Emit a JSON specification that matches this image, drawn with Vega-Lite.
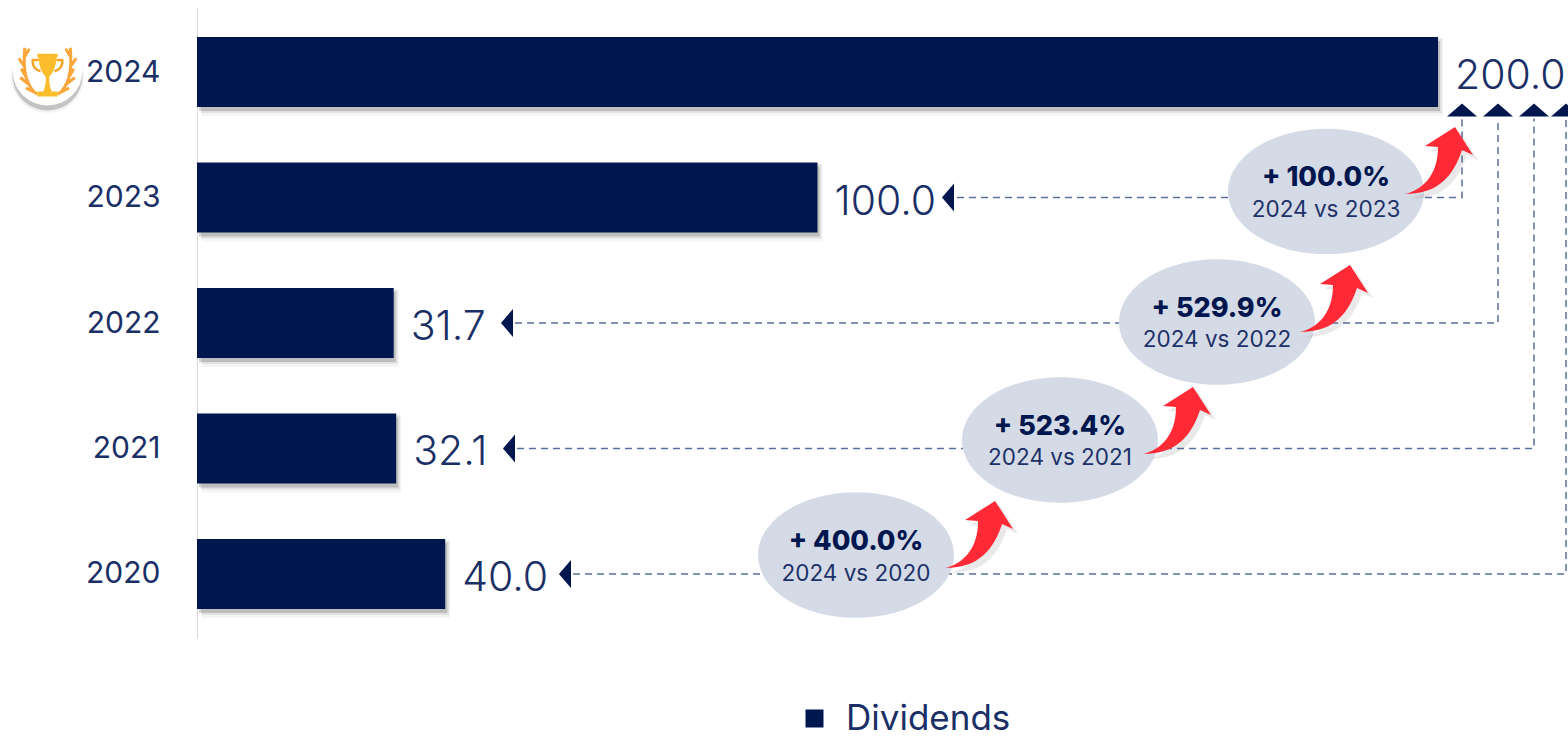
{"$schema":"https://vega.github.io/schema/vega-lite/v6.json","width":1371,"height":630,"autosize":{"type":"none"},"padding":{"left":197,"top":8,"right":0,"bottom":99},"background":"white","config":{"view":{"stroke":null},"font":"Inter"},
"datasets":{
"bars":[{"year":2024,"value":200.0,"series":"Dividends","tipX":null},{"year":2023,"value":100.0,"series":"Dividends","tipX":121.03},{"year":2022,"value":31.7,"series":"Dividends","tipX":49.96},{"year":2021,"value":32.1,"series":"Dividends","tipX":50.28},{"year":2020,"value":40.0,"series":"Dividends","tipX":59.3}],
"links":[{"vs":2023,"o":1,"x":122.48,"y":2023.0},{"vs":2023,"o":2,"x":203.87,"y":2023.0},{"vs":2023,"o":3,"x":203.87,"y":2023.63},{"vs":2022,"o":1,"x":51.25,"y":2022.0},{"vs":2022,"o":2,"x":209.67,"y":2022.0},{"vs":2022,"o":3,"x":209.67,"y":2023.63},{"vs":2021,"o":1,"x":51.57,"y":2021.0},{"vs":2021,"o":2,"x":215.47,"y":2021.0},{"vs":2021,"o":3,"x":215.47,"y":2023.63},{"vs":2020,"o":1,"x":60.6,"y":2020.0},{"vs":2020,"o":2,"x":220.63,"y":2020.0},{"vs":2020,"o":3,"x":220.63,"y":2023.63}],
"caps":[{"x":203.87,"y":2023.697},{"x":209.67,"y":2023.697},{"x":215.47,"y":2023.697},{"x":220.63,"y":2023.697}],
"comparisons":[{"vs":2023,"pct":"+ 100.0%","sub":"2024 vs 2023","bx":181.95,"by":2023.048,"ax":200.32,"ay":2023.299},{"vs":2022,"pct":"+ 529.9%","sub":"2024 vs 2022","bx":164.38,"by":2022.008,"ax":183.4,"ay":2022.199},{"vs":2021,"pct":"+ 523.4%","sub":"2024 vs 2021","bx":139.08,"by":2021.068,"ax":158.1,"ay":2021.227},{"vs":2020,"pct":"+ 400.0%","sub":"2024 vs 2020","bx":106.2,"by":2020.151,"ax":126.2,"ay":2020.319}],
"badge":[{"ix":-24.09,"iy":2024.012}]
},
"encoding":{},
"layer":[
{"data":{"name":"badge"},"mark":{"type":"point","filled":true,"shape":"circle","size":5300,"color":"#555555","opacity":0.08,"yOffset":6},"encoding":{"x":{"field":"ix","type":"quantitative","scale":{"domain":[0,220.95],"nice":false,"zero":false},"axis":null},"y":{"field":"iy","type":"quantitative","scale":{"domain":[2019.49,2024.51],"nice":false,"zero":false,"padding":0},"axis":{"values":[2020,2021,2022,2023,2024],"format":"d","title":null,"grid":false,"ticks":false,"labelPadding":37,"labelFontSize":30,"labelColor":"#1a2f66","labelFont":"Inter","domainColor":"#d9d9d9","domainWidth":1}}}},
{"data":{"name":"badge"},"mark":{"type":"point","filled":true,"shape":"circle","size":4900,"color":"#555555","opacity":0.3,"yOffset":5},"encoding":{"x":{"field":"ix","type":"quantitative"},"y":{"field":"iy","type":"quantitative"}}},
{"data":{"name":"badge"},"mark":{"type":"point","filled":true,"shape":"circle","size":4900,"color":"#ffffff","opacity":1},"encoding":{"x":{"field":"ix","type":"quantitative"},"y":{"field":"iy","type":"quantitative"}}},
{"data":{"name":"badge"},"mark":{"type":"point","filled":false,"shape":"M-0.3,0.68 C-0.55,0.5 -0.72,0.1 -0.65,-0.65 M-0.38,0.62 L-0.62,0.5 M-0.5,0.42 L-0.78,0.2 M-0.62,0.18 L-0.75,-0.05 M-0.66,-0.12 L-0.82,-0.35 M-0.65,-0.4 L-0.52,-0.62 M0.3,0.68 C0.55,0.5 0.72,0.1 0.65,-0.65 M0.38,0.62 L0.62,0.5 M0.5,0.42 L0.78,0.2 M0.62,0.18 L0.75,-0.05 M0.66,-0.12 L0.82,-0.35 M0.65,-0.4 L0.52,-0.62","size":4900,"stroke":"#fba63a","strokeWidth":3,"opacity":1},"encoding":{"x":{"field":"ix","type":"quantitative"},"y":{"field":"iy","type":"quantitative"}}},
{"data":{"name":"badge"},"mark":{"type":"point","filled":false,"shape":"M-0.25,-0.3 H-0.42 C-0.45,-0.1 -0.3,0 -0.2,0.02 M0.25,-0.3 H0.42 C0.45,-0.1 0.3,0 0.2,0.02","size":4900,"stroke":"#f5a623","strokeWidth":2.5,"opacity":1},"encoding":{"x":{"field":"ix","type":"quantitative"},"y":{"field":"iy","type":"quantitative"}}},
{"data":{"name":"badge"},"mark":{"type":"point","filled":true,"shape":"M-0.29,-0.48 H0.29 V-0.37 H0.25 C0.25,-0.05 0.12,0.1 0.05,0.18 C0.04,0.35 0.08,0.5 0.12,0.6 H0.29 V0.74 H-0.29 V0.6 H-0.12 C-0.08,0.5 -0.04,0.35 -0.05,0.18 C-0.12,0.1 -0.25,-0.05 -0.25,-0.37 H-0.29 Z","size":4900,"color":"#fbbd2c","opacity":1},"encoding":{"x":{"field":"ix","type":"quantitative"},"y":{"field":"iy","type":"quantitative"}}},
{"data":{"name":"bars"},"mark":{"type":"bar","orient":"horizontal","size":78,"color":"#555555","opacity":0.06,"xOffset":5,"yOffset":5},"encoding":{"x":{"field":"value","type":"quantitative"},"y":{"field":"year","type":"quantitative"}}},
{"data":{"name":"bars"},"mark":{"type":"bar","orient":"horizontal","size":74,"color":"#555555","opacity":0.12,"xOffset":4,"yOffset":4},"encoding":{"x":{"field":"value","type":"quantitative"},"y":{"field":"year","type":"quantitative"}}},
{"data":{"name":"bars"},"mark":{"type":"bar","orient":"horizontal","size":70,"color":"#555555","opacity":0.25,"xOffset":2,"yOffset":4},"encoding":{"x":{"field":"value","type":"quantitative"},"y":{"field":"year","type":"quantitative"}}},
{"data":{"name":"bars"},"mark":{"type":"bar","orient":"horizontal","size":70},"encoding":{"x":{"field":"value","type":"quantitative"},"y":{"field":"year","type":"quantitative"},"color":{"field":"series","type":"nominal","scale":{"range":["#00164f"]},"legend":{"title":null,"orient":"none","legendX":600,"legendY":693,"symbolType":"square","symbolSize":324,"symbolOpacity":1,"labelFontSize":35,"labelColor":"#1a2f66","labelFont":"Inter","labelOffset":14,"labelLimit":400}}}},
{"data":{"name":"links"},"mark":{"type":"line","color":"#5a6f9f","strokeWidth":1.5,"strokeDash":[7,5]},"encoding":{"x":{"field":"x","type":"quantitative"},"y":{"field":"y","type":"quantitative"},"detail":{"field":"vs","type":"nominal"},"order":{"field":"o","type":"quantitative"}}},
{"data":{"name":"caps"},"mark":{"type":"point","filled":true,"opacity":1,"color":"#00164f","shape":"M0,-0.43 L1,0.43 L-1,0.43 Z","size":900},"encoding":{"x":{"field":"x","type":"quantitative"},"y":{"field":"y","type":"quantitative"}}},
{"data":{"name":"bars"},"transform":[{"filter":"datum.tipX != null"}],"mark":{"type":"point","filled":true,"opacity":1,"color":"#00164f","shape":"M-0.43,0 L0.43,-1 L0.43,1 Z","size":784},"encoding":{"x":{"field":"tipX","type":"quantitative"},"y":{"field":"year","type":"quantitative"}}},
{"data":{"name":"bars"},"mark":{"type":"text","align":"left","baseline":"middle","dx":17,"dy":5,"fontSize":41,"fontWeight":300,"color":"#1a2f66"},"encoding":{"x":{"field":"value","type":"quantitative"},"y":{"field":"year","type":"quantitative"},"text":{"field":"value","type":"quantitative","format":".1f"}}},
{"data":{"name":"comparisons"},"mark":{"type":"point","filled":true,"opacity":1,"color":"#d5dbe6","shape":"M-1,0 C-1,-0.354 -0.552,-0.641 0,-0.641 C0.552,-0.641 1,-0.354 1,0 C1,0.354 0.552,0.641 0,0.641 C-0.552,0.641 -1,0.354 -1,0 Z","size":38416},"encoding":{"x":{"field":"bx","type":"quantitative"},"y":{"field":"by","type":"quantitative"}}},
{"data":{"name":"comparisons"},"mark":{"type":"point","filled":true,"opacity":0.13,"color":"#555555","xOffset":5,"yOffset":5,"shape":"M-0.875,0.85 C-0.45,0.75 -0.05,0.4 -0.05,-0.325 L-0.375,-0.35 L0.375,-0.825 L0.825,-0.125 L0.55,-0.25 C0.35,0.35 0,0.85 -0.875,0.85 Z","size":6400},"encoding":{"x":{"field":"ax","type":"quantitative"},"y":{"field":"ay","type":"quantitative"}}},
{"data":{"name":"comparisons"},"mark":{"type":"point","filled":true,"opacity":1,"color":"#ff2a35","shape":"M-0.875,0.85 C-0.45,0.75 -0.05,0.4 -0.05,-0.325 L-0.375,-0.35 L0.375,-0.825 L0.825,-0.125 L0.55,-0.25 C0.35,0.35 0,0.85 -0.875,0.85 Z","size":6400},"encoding":{"x":{"field":"ax","type":"quantitative"},"y":{"field":"ay","type":"quantitative"}}},
{"data":{"name":"comparisons"},"mark":{"type":"text","align":"center","baseline":"middle","dy":-13,"fontSize":27,"fontWeight":800,"color":"#00164f"},"encoding":{"x":{"field":"bx","type":"quantitative"},"y":{"field":"by","type":"quantitative"},"text":{"field":"pct","type":"nominal"}}},
{"data":{"name":"comparisons"},"mark":{"type":"text","align":"center","baseline":"middle","dy":18.5,"fontSize":22.5,"fontWeight":400,"color":"#1d3268"},"encoding":{"x":{"field":"bx","type":"quantitative"},"y":{"field":"by","type":"quantitative"},"text":{"field":"sub","type":"nominal"}}}
]}
